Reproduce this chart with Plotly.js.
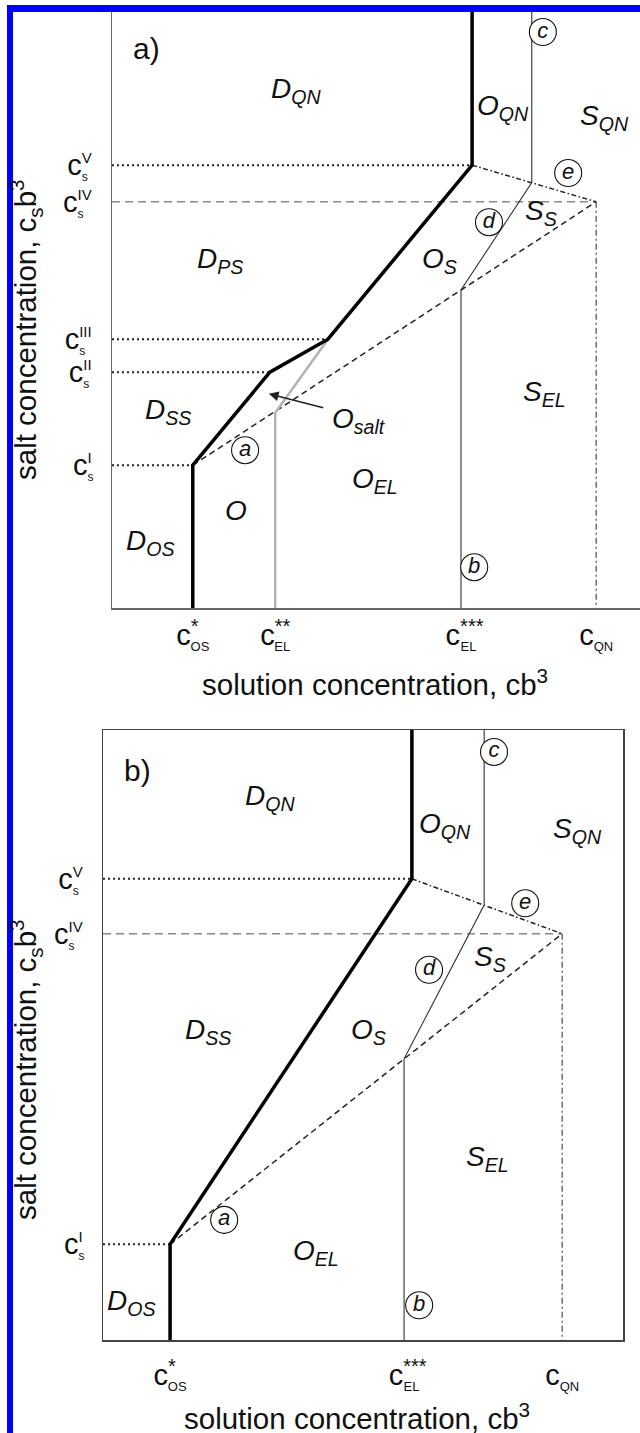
<!DOCTYPE html>
<html>
<head>
<meta charset="utf-8">
<script src="https://cdn.plot.ly/plotly-3.0.1.min.js"></script>
<style>html,body{margin:0;padding:0;background:#fff;}</style>
</head>
<body>
<div id="chart" style="width:640px;height:1433px;"></div>
<script>
const FONT = 'Liberation Sans, Arial, Helvetica, sans-serif';

// ================= PANEL a) =================
// x tick positions (solution concentration) and labels
const aXTickVals = [1.53, 3.09, 6.61, 9.17];
const aXTickText = [
  'c<sup><span style="font-size:20px;letter-spacing:-8px">*</span></sup><sub><span style="font-size:13px">OS</span></sub>',
  'c<sup><span style="font-size:20px">*</span><span style="font-size:20px;letter-spacing:-16px">*</span></sup><sub><span style="font-size:13px">EL</span></sub>',
  'c<sup><span style="font-size:20px">**</span><span style="font-size:20px;letter-spacing:-23px">*</span></sup><sub><span style="font-size:13px">EL</span></sub>',
  'c<sub><span style="font-size:13px">QN</span></sub>'
];
// y tick positions (salt concentration) and labels
const aYTickVals = [2.38, 3.93, 4.48, 6.77, 7.38];
const aYTickText = [
  'c<sub><span style="font-size:12px;letter-spacing:-6px">s</span></sub><sup><span style="font-size:15px">I</span></sup>',
  'c<sub><span style="font-size:12px;letter-spacing:-6px">s</span></sub><sup><span style="font-size:15px">II</span></sup>',
  'c<sub><span style="font-size:12px;letter-spacing:-6px">s</span></sub><sup><span style="font-size:15px">III</span></sup>',
  'c<sub><span style="font-size:12px;letter-spacing:-6px">s</span></sub><sup><span style="font-size:15px">IV</span></sup>',
  'c<sub><span style="font-size:12px;letter-spacing:-6px">s</span></sub><sup><span style="font-size:15px">V</span></sup>'
];
// boundaries
const aThickX = [1.53, 1.53, 2.99, 4.09, 6.82, 6.82];
const aThickY = [0, 2.38, 3.93, 4.48, 7.38, 10];
const aGrayX = [3.09, 3.09, 4.09];
const aGrayY = [0, 3.25, 4.48];
const aDashX = [1.53, 9.17];
const aDashY = [2.38, 6.77];
const aThinX = [6.61, 6.61, 7.95, 7.95];
const aThinY = [0, 5.30, 7.09, 10];
const aDashDotX = [6.82, 9.17];
const aDashDotY = [7.38, 6.77];
const aQNX = [9.17, 9.17];
const aQNY = [6.77, 0];
const aIVX = [0, 9.17];
const aIVY = [6.77, 6.77];
const aDotX = [0, 6.82, null, 0, 4.09, null, 0, 2.99, null, 0, 1.53];
const aDotY = [7.38, 7.38, null, 4.48, 4.48, null, 3.93, 3.93, null, 2.38, 2.38];
// region labels
const aLabText = ['D<sub>QN</sub>', 'O<sub>QN</sub>', 'S<sub>QN</sub>', 'D<sub>PS</sub>', 'O<sub>S</sub>', 'S<sub>S</sub>',
  'S<sub>EL</sub>', 'D<sub>SS</sub>', 'O<sub>salt</sub>', 'O<sub>EL</sub>', 'O', 'D<sub>OS</sub>'];
const aLabX = [3.48, 7.41, 9.32, 2.05, 6.21, 8.13, 8.20, 1.06, 4.68, 4.98, 2.35, 0.72];
const aLabY = [8.63, 8.35, 8.17, 5.80, 5.80, 6.60, 3.58, 3.27, 3.13, 2.13, 1.62, 1.10];
// circled markers
const aCircText = ['a', 'b', 'c', 'd', 'e'];
const aCircX = [2.52, 6.86, 8.16, 7.14, 8.64];
const aCircY = [2.63, 0.68, 9.60, 6.43, 7.25];
// arrow to O_salt region (head, tail)
const aArrowHead = [2.97, 3.57];
const aArrowTail = [4.03, 3.33];

// ================= PANEL b) =================
const bXTickVals = [1.29, 5.79, 8.83];
const bXTickText = [aXTickText[0], aXTickText[2], aXTickText[3]];
const bYTickVals = [1.57, 6.66, 7.56];
const bYTickText = [aYTickText[0], aYTickText[3], aYTickText[4]];
const bThickX = [1.29, 1.29, 5.94, 5.94];
const bThickY = [0, 1.57, 7.56, 10];
const bDashX = [1.29, 8.83];
const bDashY = [1.57, 6.66];
const bThinX = [5.79, 5.79, 7.33, 7.33];
const bThinY = [0, 4.61, 7.13, 10];
const bDashDotX = [5.94, 8.83];
const bDashDotY = [7.56, 6.66];
const bQNX = [8.83, 8.83];
const bQNY = [6.66, 0];
const bIVX = [0, 8.83];
const bIVY = [6.66, 6.66];
const bDotX = [0, 5.94, null, 0, 1.29];
const bDotY = [7.56, 7.56, null, 1.57, 1.57];
const bLabText = ['D<sub>QN</sub>', 'O<sub>QN</sub>', 'S<sub>QN</sub>', 'D<sub>SS</sub>', 'O<sub>S</sub>', 'S<sub>S</sub>',
  'S<sub>EL</sub>', 'O<sub>EL</sub>', 'D<sub>OS</sub>'];
const bLabX = [3.21, 6.58, 9.13, 2.02, 5.10, 7.44, 7.40, 4.10, 0.54];
const bLabY = [8.90, 8.43, 8.36, 5.05, 5.05, 6.26, 2.98, 1.44, 0.62];
const bCircText = ['a', 'b', 'c', 'd', 'e'];
const bCircX = [2.33, 6.08, 7.52, 6.27, 8.12];
const bCircY = [1.97, 0.57, 9.64, 6.07, 7.16];

const xTitle = 'solution concentration, cb<sup>3</sup>';
const yTitle = 'salt concentration, c<sub>s</sub>b<sup>3</sup>';

// ---------- traces ----------
function line(x, y, xa, ya, color, width, dash) {
  return {type: 'scatter', mode: 'lines', x: x, y: y, xaxis: xa, yaxis: ya,
    line: {color: color, width: width, dash: dash || 'solid'}, hoverinfo: 'skip', showlegend: false,
    connectgaps: false, cliponaxis: false};
}
function circles(x, y, t, xa, ya) {
  return {type: 'scatter', mode: 'markers+text', x: x, y: y, text: t, xaxis: xa, yaxis: ya,
    marker: {symbol: 'circle', size: 27, color: 'rgba(255,255,255,1)', line: {color: '#111', width: 1.1}},
    textposition: 'middle center', textfont: {family: FONT, size: 22, color: '#111', style: 'italic'},
    hoverinfo: 'skip', showlegend: false, cliponaxis: false};
}
const traces = [
  line(aIVX, aIVY, 'x', 'y', '#8a8a8a', 1.5, '8px,5px'),
  line(aDotX, aDotY, 'x', 'y', '#222', 2, '2px,3px'),
  line(aDashX, aDashY, 'x', 'y', '#222', 1.5, '6px,4px'),
  line(aDashDotX, aDashDotY, 'x', 'y', '#222', 1.5, '5px,2.5px,1.5px,2.5px'),
  line(aQNX, aQNY, 'x', 'y', '#555', 1.3, '6px,3px,2px,3px'),
  line(aThinX, aThinY, 'x', 'y', '#333', 1.1),
  line(aGrayX, aGrayY, 'x', 'y', '#b4b4b4', 2.5),
  line(aThickX, aThickY, 'x', 'y', '#000', 3.5),
  circles(aCircX, aCircY, aCircText, 'x', 'y'),

  line(bIVX, bIVY, 'x2', 'y2', '#8a8a8a', 1.5, '8px,5px'),
  line(bDotX, bDotY, 'x2', 'y2', '#222', 2, '2px,3px'),
  line(bDashX, bDashY, 'x2', 'y2', '#222', 1.5, '6px,4px'),
  line(bDashDotX, bDashDotY, 'x2', 'y2', '#222', 1.5, '5px,2.5px,1.5px,2.5px'),
  line(bQNX, bQNY, 'x2', 'y2', '#555', 1.3, '6px,3px,2px,3px'),
  line(bThinX, bThinY, 'x2', 'y2', '#333', 1.1),
  line(bThickX, bThickY, 'x2', 'y2', '#000', 3.5),
  circles(bCircX, bCircY, bCircText, 'x2', 'y2')
];

// ---------- annotations ----------
const annotations = [];
function addLabels(txt, xs, ys, xr, yr) {
  txt.forEach(function (t, i) {
    annotations.push({text: '<i>' + t + '</i>', x: xs[i], y: ys[i], xref: xr, yref: yr, showarrow: false,
      xanchor: 'center', yanchor: 'middle', font: {family: FONT, size: 28, color: '#111'}});
  });
}
addLabels(aLabText, aLabX, aLabY, 'x', 'y');
addLabels(bLabText, bLabX, bLabY, 'x2', 'y2');
annotations.push({text: 'a)', x: 0.66, y: 9.33, xref: 'x', yref: 'y', showarrow: false,
  font: {family: FONT, size: 30, color: '#111'}});
annotations.push({text: 'b)', x: 0.67, y: 9.34, xref: 'x2', yref: 'y2', showarrow: false,
  font: {family: FONT, size: 30, color: '#111'}});
annotations.push({text: '', x: aArrowHead[0], y: aArrowHead[1], ax: aArrowTail[0], ay: aArrowTail[1],
  xref: 'x', yref: 'y', axref: 'x', ayref: 'y', showarrow: true, arrowhead: 2, arrowsize: 1.3,
  arrowwidth: 1.5, arrowcolor: '#222', standoff: 0});
const H = 1433, W = 640;
function titleAnn(t, px, py, ang) {
  annotations.push({text: t, x: px / W, y: 1 - py / H, xref: 'paper', yref: 'paper', showarrow: false,
    xanchor: 'center', yanchor: 'middle', textangle: ang, font: {family: FONT, size: 29.5, color: '#111'}});
}
titleAnn(xTitle, 375, 683, 0);
titleAnn(yTitle, 26, 330, -90);
titleAnn(xTitle, 357, 1416, 0);
titleAnn(yTitle, 26, 1070, -90);

// ---------- axes ----------
function axis(domain, anchor, tv, tt, color, mirror, standoff) {
  return {domain: domain, anchor: anchor, range: [0, 10], showgrid: false, zeroline: false,
    showline: true, linecolor: color, linewidth: 1.5, mirror: mirror, ticks: '',
    tickmode: 'array', tickvals: tv, ticktext: tt, ticklabelstandoff: standoff,
    tickfont: {family: FONT, size: 29, color: '#111'}, fixedrange: true};
}
const layout = {
  width: W, height: H, margin: {l: 0, r: 0, t: 0, b: 0},
  paper_bgcolor: '#fff', plot_bgcolor: 'rgba(0,0,0,0)', showlegend: false,
  xaxis: axis([112 / W, 1], 'y', aXTickVals, aXTickText, '#666', false, 1),
  yaxis: axis([1 - 608 / H, 1 - 8 / H], 'x', aYTickVals, aYTickText, '#666', false, 13),
  xaxis2: axis([103 / W, 623 / W], 'y2', bXTickVals, bXTickText, '#444', true, 9),
  yaxis2: axis([1 - 1340 / H, 1 - 730 / H], 'x2', bYTickVals, bYTickText, '#444', true, 13),
  annotations: annotations,
  shapes: [
    {type: 'rect', xref: 'paper', yref: 'paper', x0: 7 / W, x1: 13 / W, y0: 0, y1: 1 - 5 / H,
      fillcolor: '#0000fe', line: {width: 0}, layer: 'above'},
    {type: 'rect', xref: 'paper', yref: 'paper', x0: 7 / W, x1: 1, y0: 1 - 12 / H, y1: 1 - 5 / H,
      fillcolor: '#0000fe', line: {width: 0}, layer: 'above'}
  ]
};
Plotly.newPlot('chart', traces, layout, {staticPlot: true, displayModeBar: false});
</script>
</body>
</html>
